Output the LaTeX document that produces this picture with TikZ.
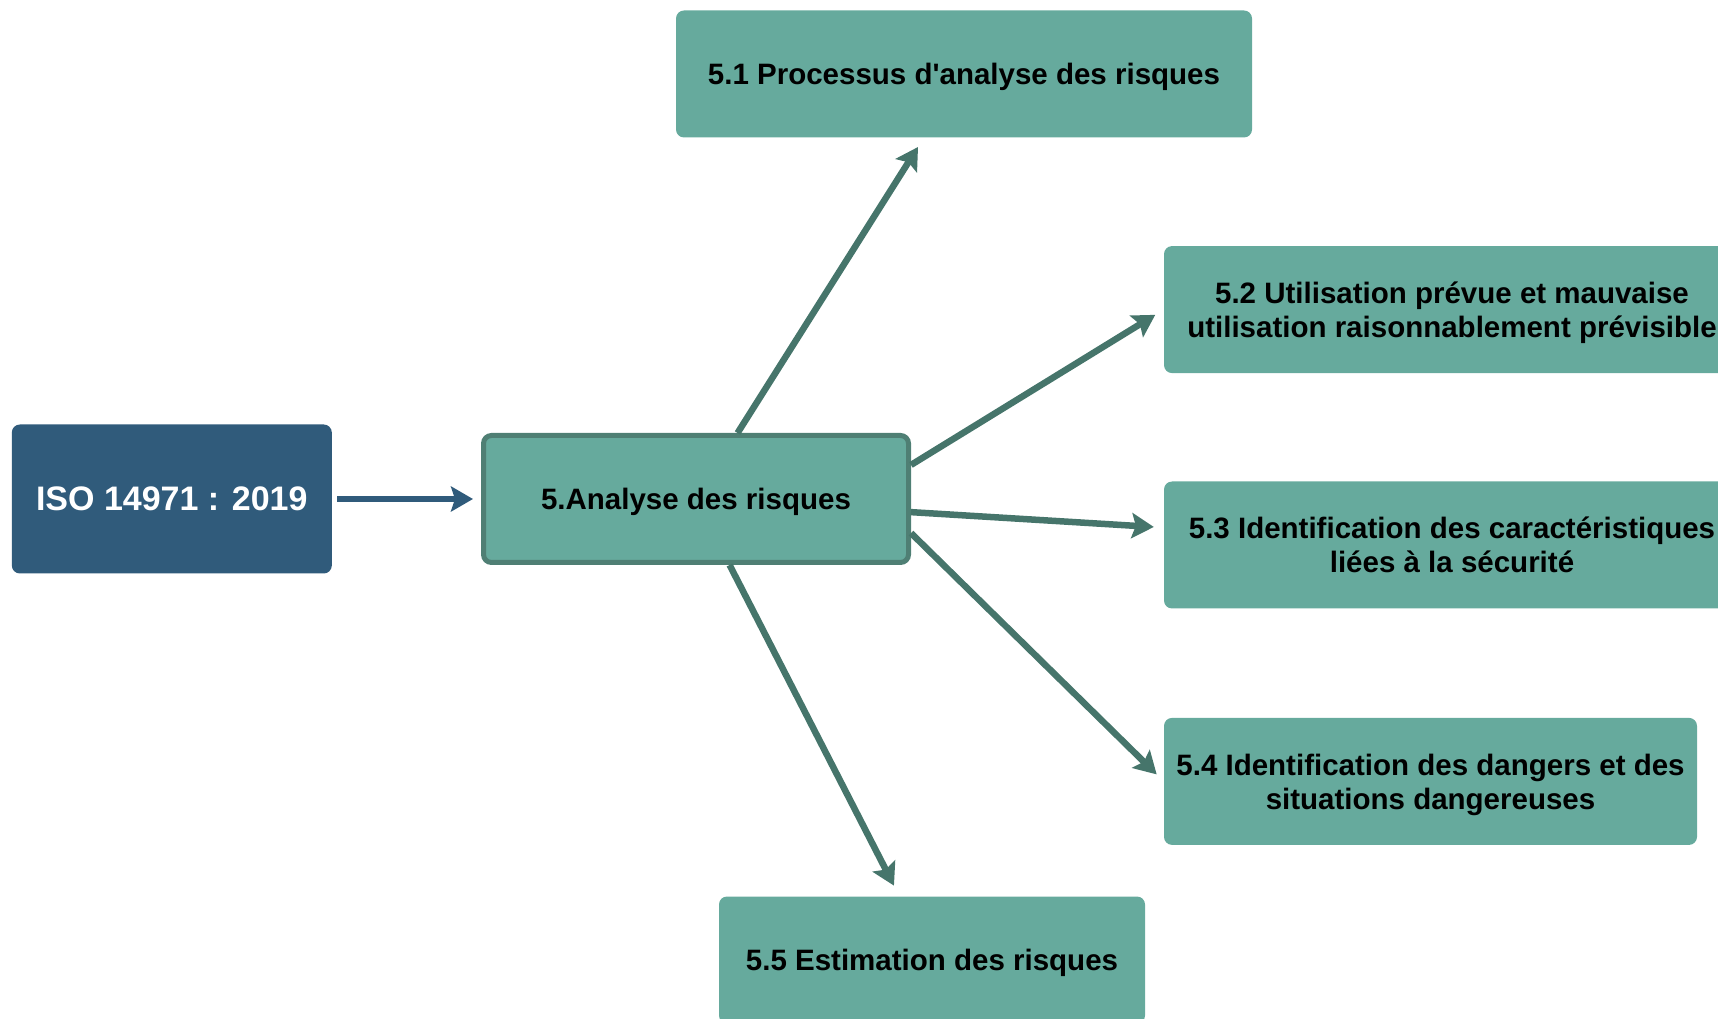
\documentclass[tikz,border=0pt]{standalone}
\usepackage{fontspec}
\setmainfont{Liberation Sans}
\usetikzlibrary{positioning, arrows.meta}
\definecolor{myteal}{RGB}{102,170,157}
\definecolor{mydark}{RGB}{70,117,107}
\definecolor{myborder}{RGB}{79,127,116}
\definecolor{myblue}{RGB}{48,91,123}
\tikzset{basic/.style={rounded corners=8pt,inner sep=0pt,align=center,text depth=-3pt,font=\fontsize{29.5}{34}\selectfont\bfseries}}
\tikzset{sub/.style={basic,fill=myteal,minimum height=127pt}}
\tikzset{link/.style={draw=mydark,line width=6.5pt,-{Stealth[length=22pt,width=25pt,inset=4pt]}}}

\begin{document}
\begin{tikzpicture}
\useasboundingbox (0,0) rectangle (1718pt,1018pt);

% Define central node
\node[basic,fill=myteal,draw=myborder,line width=5pt,minimum width=425pt,minimum height=127pt] (analyse) at (696pt,519pt) {5.Analyse des risques};

% Define input node
\node[basic,fill=myblue,text=white,font=\fontsize{34}{40}\selectfont\bfseries,minimum width=320pt,minimum height=149pt,left=149pt of analyse] (iso) {ISO 14971 : 2019};

% Define sub nodes
\node[sub,minimum width=576pt] (p51) at (964pt,944pt) {5.1 Processus d\textquotesingle analyse des risques};
\node[sub,minimum width=576pt] (p53) at (1452pt,473pt) {5.3 Identification des caractéristiques\\liées à la sécurité};
\node[sub,minimum width=576pt,above=108pt of p53] (p52) {5.2 Utilisation prévue et mauvaise\\utilisation raisonnablement prévisible};
\node[sub,minimum width=533pt,below=109pt of p53.south west,anchor=north west] (p54) {5.4 Identification des dangers et des\\situations dangereuses};
\node[sub,minimum width=426pt] (p55) at (932pt,58pt) {5.5 Estimation des risques};

% Draw line from input node
\path[link,draw=myblue,shorten <=5pt,shorten >=8pt] (iso) -- (analyse);

% Draw lines from central node
\path[link,shorten >=11pt] (analyse) -- (p51);
\path[link,shorten >=10pt] (analyse.9) -- (p52.west);
\path[link,shorten >=10pt] (analyse) -- (p53);
\path[link,shorten >=10pt] (analyse.-9) -- (p54.west);
\path[link,shorten >=12pt] (analyse) -- (p55);

\end{tikzpicture}
\end{document}
